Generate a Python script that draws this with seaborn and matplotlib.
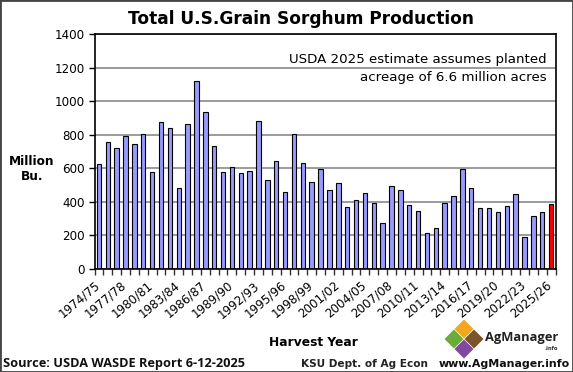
import matplotlib
matplotlib.use('Agg')
import matplotlib.pyplot as plt
from matplotlib.patches import Polygon, Rectangle
from matplotlib.transforms import ScaledTranslation
import pandas as pd
import seaborn as sns

# harvest years and production, million bushels
start_years = list(range(1974, 2026))
production = [625, 755, 720, 790, 745, 805, 580, 875, 840, 485,
              865, 1120, 935, 730, 575, 610, 570, 585, 880, 532,
              645, 460, 803, 630, 520, 595, 470, 515, 370, 410,
              450, 393, 277, 497, 470, 383, 345, 214, 247, 392,
              432, 597, 480, 364, 366, 342, 373, 448, 193, 318,
              342, 390]
y_ticks = [0, 200, 400, 600, 800, 1000, 1200, 1400]

W, H = 573, 372
years = ['%d/%02d' % (y, (y + 1) % 100) for y in start_years]
status = ['actual'] * (len(years) - 1) + ['estimate']
df = pd.DataFrame({'Year': years, 'Production': production, 'Status': status})

sns.set_theme(style='white')
plt.rcParams['font.family'] = ['DejaVu Sans']

fig = plt.figure(figsize=(W / 100, H / 100), dpi=100, facecolor='white')
ax = fig.add_axes([94.5 / W, 1 - 269 / H, 461 / W, 235 / H])

sns.barplot(data=df, x='Year', y='Production', hue='Status',
            palette={'actual': '#9999FF', 'estimate': '#FF0000'},
            dodge=False, legend=False, width=0.5, saturation=1,
            edgecolor='black', linewidth=0.8, ax=ax, zorder=3)

ax.set_xlim(-0.5, len(years) - 0.5)
ax.set_ylim(0, 1400)
ax.set_xlabel('')
ax.set_ylabel('')
ax.set_yticks(y_ticks)
ax.yaxis.grid(True, color='#808080', linewidth=1.1, zorder=1)
ax.set_axisbelow(True)
ax.tick_params(axis='y', left=True, length=4, width=1, color='black',
               labelsize=8.6, labelcolor='black', pad=3)

# labels every 3 years, tick marks between the bars
ax.set_xticks(range(0, len(years), 3))
ax.set_xticklabels(years[::3], rotation=40, ha='right', rotation_mode='anchor',
                   fontsize=8.6, color='black')
ax.set_xticks([i - 0.5 for i in range(len(years) + 1)], minor=True)
ax.tick_params(axis='x', which='major', bottom=False, pad=1)
ax.tick_params(axis='x', which='minor', bottom=True, length=4, width=1, color='#333333')
shift = ScaledTranslation(-5 / 100, 0, fig.dpi_scale_trans)
for lab in ax.get_xticklabels():
    lab.set_transform(lab.get_transform() + shift)
for s in ax.spines.values():
    s.set_color('black')
    s.set_linewidth(1.2)
    s.set_zorder(5)

fig.text(301 / W, 1 - 19 / H, 'Total U.S.Grain Sorghum Production', ha='center', va='center',
         fontsize=12.25, fontweight='bold', color='black')
fig.text(547 / W, 1 - 60 / H, 'USDA 2025 estimate assumes planted', ha='right', va='center',
         fontsize=9.6, color='black')
fig.text(547 / W, 1 - 77 / H, 'acreage of 6.6 million acres', ha='right', va='center',
         fontsize=9.6, color='black')
fig.text(32 / W, 1 - 161 / H, 'Million', ha='center', va='center', fontsize=8.7,
         fontweight='bold', color='black')
fig.text(32 / W, 1 - 177 / H, 'Bu.', ha='center', va='center', fontsize=8.7,
         fontweight='bold', color='black')
fig.text(313.5 / W, 1 - 343 / H, 'Harvest Year', ha='center', va='center', fontsize=8.8,
         fontweight='bold', color='black')
fig.text(3 / W, 1 - 364 / H, 'Source: USDA WASDE Report 6-12-2025', ha='left', va='center',
         fontsize=9.2, fontweight='bold', family='Open Sans', color='#111111')
fig.text(428 / W, 1 - 364 / H, 'KSU Dept. of Ag Econ', ha='right', va='center',
         fontsize=7.6, fontweight='bold', color='#222222')
fig.text(570 / W, 1 - 364 / H, 'www.AgManager.info', ha='right', va='center',
         fontsize=7.9, fontweight='bold', color='#111111')


def diamond(cx, cy, r, color):
    pts = [(cx - r, cy), (cx, cy - r), (cx + r, cy), (cx, cy + r)]
    fig.add_artist(Polygon([(x / W, 1 - y / H) for x, y in pts], closed=True,
                           transform=fig.transFigure, facecolor=color, edgecolor='none'))


# AgManager logo
diamond(464, 329, 9.5, '#F2A81D')
diamond(454, 339, 9.5, '#6AAB3C')
diamond(474, 339, 9.5, '#7B5427')
diamond(464, 349, 9.5, '#7F4A9E')
fig.text(485 / W, 1 - 337 / H, 'AgManager', ha='left', va='center', fontsize=9.3,
         fontweight='bold', family='Open Sans', color='#222222')
fig.text(558 / W, 1 - 349 / H, '.info', ha='right', va='center', fontsize=3.8,
         fontweight='bold', color='#333333')

# picture frame
fig.add_artist(Rectangle((0, 0), 1, 1, transform=fig.transFigure, fill=False,
                         edgecolor='#444444', linewidth=2))

fig.savefig('out.png', dpi=100)
